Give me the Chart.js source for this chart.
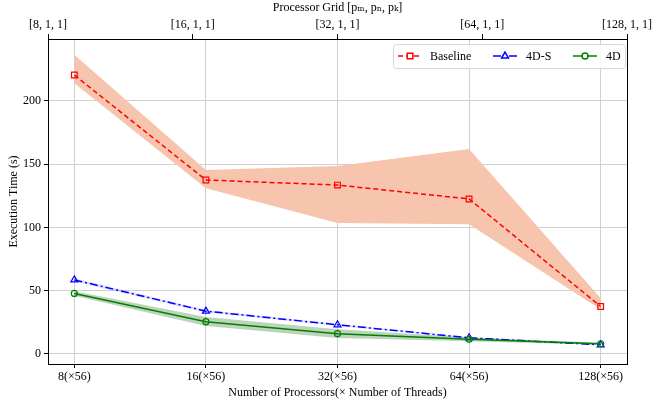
<!DOCTYPE html>
<html><head><meta charset="utf-8">
<script src="https://cdn.jsdelivr.net/npm/chart.js@4"></script>
<style>html,body{margin:0;padding:0;background:#fff}#wrap{width:654px;height:400px}</style>
</head><body><div id="wrap"><canvas id="c" width="654" height="400"></canvas></div>
<script>
const categories = ['8(×56)', '16(×56)', '32(×56)', '64(×56)', '128(×56)'];
const gridLabels = ['[8, 1, 1]', '[16, 1, 1]', '[32, 1, 1]', '[64, 1, 1]', '[128, 1, 1]'];
const yTicks = [0, 50, 100, 150, 200];
const baseline   = [220.5, 137.5, 133.5, 122.5, 37.5];
const baselineHi = [236.5, 145.5, 148.5, 162.0, 44.0];
const baselineLo = [214.0, 131.0, 103.5, 102.5, 35.0];
const fourDS   = [58.5, 33.8, 23.0, 12.7, 7.2];
const fourDSHi = [59.8, 34.8, 23.8, 13.3, 7.6];
const fourDSLo = [57.2, 32.8, 22.2, 12.1, 6.8];
const fourD   = [47.8, 25.5, 16.0, 11.5, 8.0];
const fourDHi = [49.5, 29.2, 19.5, 13.0, 8.8];
const fourDLo = [46.0, 22.0, 12.5, 10.0, 7.2];

const pts = arr => arr.map((v, i) => ({x: i, y: v}));
const SERIF = '"Liberation Serif", "DejaVu Serif", serif';
Chart.defaults.font.family = SERIF;
Chart.defaults.color = '#000';

const band = (hi, lo, color) => [
  {data: pts(hi), borderWidth: 0, pointRadius: 0, fill: false, backgroundColor: color, order: 10},
  {data: pts(lo), borderWidth: 0, pointRadius: 0, fill: '-1', backgroundColor: color, order: 10}
];

const legendItems = [
  {label: 'Baseline', color: 'red', dash: [5, 3], style: 'rect', r: 4},
  {label: '4D-S', color: 'blue', dash: [8, 3, 2, 3], style: 'triangle', r: 4},
  {label: '4D', color: 'green', dash: [], style: 'circle', r: 3}
];

const framePlugin = {
  id: 'frame',
  afterDatasetsDraw(chart) {
    const {ctx, chartArea: a} = chart;
    ctx.save();
    ctx.strokeStyle = '#000'; ctx.lineWidth = 1;
    ctx.strokeRect(Math.round(a.left) + 0.5, Math.round(a.top) + 0.5, Math.round(a.right - a.left), Math.round(a.bottom - a.top));
    ctx.restore();
  },
  afterDraw(chart) {
    const {ctx} = chart;
    ctx.save();
    const bx = 393, by = 44, bw = 232, bh = 24, r = 3;
    ctx.fillStyle = 'rgba(255,255,255,0.85)';
    ctx.strokeStyle = '#d6d6d6'; ctx.lineWidth = 1;
    ctx.beginPath();
    ctx.roundRect(bx + 0.5, by + 0.5, bw, bh, r);
    ctx.fill(); ctx.stroke();
    const xs = [398, 493, 573];
    const tx = [430, 526, 606];
    const cy = by + 12;
    ctx.font = '12px ' + SERIF;
    ctx.textBaseline = 'middle';
    legendItems.forEach((it, i) => {
      ctx.strokeStyle = it.color; ctx.lineWidth = 1.5;
      ctx.setLineDash(it.dash);
      ctx.beginPath(); ctx.moveTo(xs[i], cy); ctx.lineTo(xs[i] + 24, cy); ctx.stroke();
      ctx.setLineDash([]);
      ctx.fillStyle = '#fff';
      Chart.helpers.drawPoint(ctx, {pointStyle: it.style, radius: it.r, borderWidth: 1.2}, xs[i] + 12, cy);
      ctx.fillStyle = '#000';
      ctx.fillText(it.label, tx[i], cy + 1);
    });
    ctx.restore();
  }
};

new Chart(document.getElementById('c'), {
  type: 'line',
  data: {
    datasets: [
      ...band(baselineHi, baselineLo, '#f7c4ae'),
      ...band(fourDSHi, fourDSLo, 'rgba(80,80,255,0.18)'),
      ...band(fourDHi, fourDLo, 'rgba(40,110,30,0.3)'),
      {label: 'Baseline', data: pts(baseline), borderColor: 'red', borderWidth: 1.5, borderDash: [5, 3],
       pointStyle: 'rect', pointRadius: 4, pointBorderWidth: 1.2, pointBackgroundColor: 'rgba(0,0,0,0)', pointBorderColor: 'red', fill: false, order: 1},
      {label: '4D-S', data: pts(fourDS), borderColor: 'blue', borderWidth: 1.5, borderDash: [8, 3, 2, 3],
       pointStyle: 'triangle', pointRadius: 4, pointBorderWidth: 1.2, pointBackgroundColor: 'rgba(0,0,0,0)', pointBorderColor: 'blue', fill: false, order: 2},
      {label: '4D', data: pts(fourD), borderColor: 'green', borderWidth: 1.5,
       pointStyle: 'circle', pointRadius: 3, pointBorderWidth: 1.2, pointBackgroundColor: 'rgba(0,0,0,0)', pointBorderColor: 'green', fill: false, order: 0}
    ]
  },
  options: {
    responsive: false, animation: false,
    layout: {padding: {left: 0, right: 22, top: 0, bottom: 0}},
    plugins: {legend: {display: false}, tooltip: {enabled: false}},
    elements: {line: {tension: 0}},
    scales: {
      x: {
        type: 'linear', position: 'bottom', min: -0.2, max: 4.2,
        afterBuildTicks: s => { s.ticks = categories.map((_, i) => ({value: i})); },
        afterFit: s => { s.height = 36; },
        ticks: {callback: v => categories[v], font: {size: 12}, padding: 2, maxRotation: 0},
        grid: {color: '#d0d0d0', tickColor: '#000', tickLength: 4},
        border: {color: '#000'},
        title: {display: true, text: 'Number of Processors(× Number of Threads)', font: {size: 12}, padding: {top: 0, bottom: 0}}
      },
      x2: {
        type: 'linear', position: 'top', min: 0, max: 4,
        afterBuildTicks: s => { s.ticks = gridLabels.map((_, i) => ({value: i})); },
        afterFit: s => { s.height = 39; },
        ticks: {callback: v => gridLabels[v], font: {size: 12}, padding: 2, maxRotation: 0},
        grid: {drawOnChartArea: false, tickColor: '#000', tickLength: 5},
        border: {color: '#000'},
        title: {display: true, text: 'Processor Grid [pₘ, pₙ, pₖ]', font: {size: 12}, padding: {top: 1, bottom: 0}}
      },
      y: {
        type: 'linear', min: -8, max: 249,
        afterBuildTicks: s => { s.ticks = yTicks.map(v => ({value: v})); },
        afterFit: s => { s.width = 48; },
        ticks: {font: {size: 12}, padding: 3},
        grid: {color: '#d0d0d0', tickColor: '#000', tickLength: 4},
        border: {color: '#000'},
        title: {display: true, text: 'Execution Time (s)', font: {size: 12}, padding: {top: 7, bottom: 0}}
      }
    }
  },
  plugins: [framePlugin]
});
</script></body></html>
